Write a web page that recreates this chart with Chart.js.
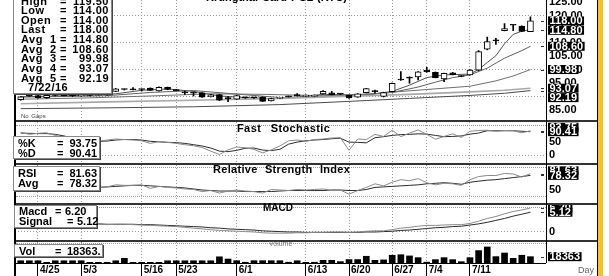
<!DOCTYPE html>
<html>
<head>
<meta charset="utf-8">
<title>Krungthai Card PCL (KTC)</title>
<script src="https://cdn.jsdelivr.net/npm/chart.js@4.4.1/dist/chart.umd.min.js"></script>
<style>
  html, body { margin: 0; padding: 0; background: #fff; }
  body { width: 609px; height: 276px; overflow: hidden; position: relative; font-family: "Liberation Sans", Arial, sans-serif; }
  canvas { position: absolute; left: 15px; }
  .rule { position: absolute; background: #333; }
  .dots { position: absolute; height: 0; border-top: 1px dotted #999; }
  .box { position: absolute; background: #fff; border: 1px solid #888; box-shadow: 1px 1px 0 #444; font-weight: bold; color: #000; }
  .row { position: absolute; height: 10px; line-height: 10px; white-space: nowrap; }
  .ttl { position: absolute; font-weight: bold; font-size: 11px; white-space: nowrap; word-spacing: 3px; line-height: 13px; color: #000; }
</style>
</head>
<body>
<canvas id="cPrice" width="582" height="120" style="top:0px"></canvas>
<canvas id="cStoch" width="582" height="41" style="top:122px"></canvas>
<canvas id="cRsi" width="582" height="38" style="top:165px"></canvas>
<canvas id="cMacd" width="582" height="35" style="top:205px"></canvas>
<canvas id="cVol" width="582" height="34" style="top:242px"></canvas>

<script>
// trading days shown on the chart
const dates = ['4/21','4/22','4/25','4/26','4/27','4/28','4/29','5/3','5/4','5/9',
  '5/10','5/11','5/12','5/13','5/16','5/17','5/18','5/19','5/23','5/24',
  '5/25','5/26','5/27','5/30','5/31','6/1','6/2','6/3','6/6','6/7',
  '6/8','6/9','6/10','6/13','6/14','6/15','6/16','6/17','6/20','6/21',
  '6/22','6/23','6/24','6/27','6/28','6/29','6/30','7/4','7/5','7/6',
  '7/7','7/8','7/11','7/12','7/13','7/14','7/15','7/18','7/21','7/22'];
const dateTicks = ['4/25','5/3','5/16','5/23','6/1','6/13','6/20','6/27','7/4','7/11'];

const open = [88.8,90.2,90.3,89.6,90.4,90.4,90.3,90.3,90.5,90.4,
  90.6,91.9,92.6,92.5,92.7,93.1,92.1,93.4,92.5,91.4,
  91.2,91.4,89.9,90.7,89.2,89.0,89.7,89.5,89.8,88.4,
  89.3,89.9,90.3,90.0,90.0,91.0,91.4,90.9,90.4,89.8,
  91.4,91.8,90.0,91.8,96.2,96.8,97.3,99.8,99.0,96.5,
  98.8,97.6,98.0,99.8,107.5,110.6,114.4,116.5,116.1,114.0];
const high = [90.0,90.4,90.6,90.7,90.6,90.6,90.5,90.6,90.6,90.8,
  90.8,93.0,92.8,93.3,92.8,93.2,93.6,93.5,92.6,92.0,
  91.7,91.5,90.8,90.8,90.0,90.5,89.8,89.6,89.9,89.4,
  89.6,90.1,91.1,90.6,90.6,92.2,91.9,91.0,90.5,91.1,
  93.0,92.4,91.6,95.0,99.2,97.3,99.2,100.8,99.1,98.7,
  98.9,97.7,100.0,107.0,112.0,111.5,117.0,116.6,116.2,119.5];
const low = [88.6,90.0,89.4,89.3,90.2,90.2,90.0,90.1,90.2,90.3,
  90.4,91.8,92.4,92.4,92.0,92.2,92.0,92.5,92.1,90.8,
  90.2,89.7,89.8,88.5,88.1,88.9,89.3,89.3,88.1,88.3,
  89.2,89.8,90.2,89.9,89.9,90.9,90.6,90.7,89.3,89.7,
  91.3,91.2,89.8,91.7,96.0,94.9,96.1,99.0,96.9,95.5,
  98.0,97.3,97.9,99.6,107.3,109.3,114.3,114.4,114.0,114.0];
const close = [89.9,90.2,89.6,90.4,90.4,90.3,90.3,90.5,90.4,90.6,
  90.6,92.8,92.6,92.5,92.6,92.3,93.4,92.6,92.2,91.4,
  91.2,89.8,90.6,88.6,89.2,90.3,89.5,89.5,88.2,89.2,
  89.5,89.9,90.3,90.5,90.5,91.9,90.7,90.9,89.5,91.0,
  92.9,91.8,91.5,94.9,96.1,96.8,99.1,99.1,97.0,98.6,
  98.1,97.4,99.8,106.6,110.3,110.6,115.2,116.4,114.1,118.0];

// moving averages, read at [bar index, value]
const avg1 = [[0,89.9],[3,90.1],[7,90.4],[11,91.0],[14,92.3],[17,92.8],[20,91.9],[23,90.2],[26,89.6],
  [29,89.2],[32,89.8],[35,90.8],[38,90.6],[41,91.0],[43,91.9],[45,94.2],[47,97.0],[49,98.0],[51,98.2],
  [52,98.3],[53,100.0],[54,102.6],[55,105.1],[56,109.5],[57,113.0],[58,114.2],[59,114.8]];
const avg2 = [[0,89.8],[5,90.0],[10,90.3],[15,91.5],[20,92.2],[25,90.9],[30,89.6],[35,89.9],[40,90.7],
  [43,91.5],[46,93.5],[48,95.3],[50,97.0],[52,98.0],[54,100.5],[56,104.2],[58,107.0],[59,108.6]];
const avg3 = [[0,89.0],[8,89.5],[15,90.2],[22,91.0],[28,90.8],[35,90.3],[40,90.8],[43,91.6],[47,92.6],
  [52,93.8],[55,95.8],[57,97.6],[59,99.98]];
const avg4 = [[0,87.3],[10,88.0],[20,88.6],[30,89.3],[40,90.3],[45,90.8],[52,91.7],[56,92.3],[59,93.07]];
const avg5 = [[0,85.5],[10,85.8],[20,86.2],[30,87.0],[40,88.5],[45,89.3],[52,90.4],[56,91.2],[59,92.19]];

const volume = [6500,6500,6500,2000,6500,6500,6500,6500,2000,2000,
  2000,6500,13500,2000,2000,2000,2000,6500,6500,6500,
  6500,6500,6500,18000,11500,6700,2200,6700,6700,6700,
  6700,2200,6500,2000,2200,7800,7800,4000,10000,10000,
  19500,7800,9000,22500,24000,20500,15500,2500,9700,15500,
  9700,3800,15500,36000,46500,18500,29000,13500,22500,18363];

const pctK = [88,80,84,86,76,66,60,55,52,53,
  58,62,60,58,55,45,52,49,45,40,
  36,29,15,2,20,31,28,22,8,20,
  35,55,58,53,60,62,66,67,18,62,
  60,80,72,96,71,85,97,80,61,72,
  82,68,92,95,96,92,95,94,86,93.75];
const pctD = [85,84,83,83,80,74,66,60,56,53,
  54,58,60,60,58,53,51,49,48,45,
  40,35,27,15,13,18,26,27,19,17,
  22,42,50,55,58,60,63,65,50,49,
  47,67,71,76,79,80,82,81,76,71,
  72,74,81,85,94,94,94,94,92,90.41];

const rsi = [58,57,56,57,56,56,55,56,55,55,
  56,60,59,59,60,53,57,55,54,52,
  51,47,49,44,48,50,48,47,44,51,
  50,49,51,50,51,52,49,50,42,49,
  55,62,58,65,70,68,72,64,60,63,
  62,59,70,76,78,78,82,81,75,81.63];
const rsiAvg = [57,57,57,56,56,56,56,56,55,55,
  56,57,58,59,59,58,57,56,55,54,
  52,50,49,48,48,48,47,47,47,47,
  48,49,49,49,49,49,50,50,49,49,
  51,55,56,57,58,59,60,62,63,64,
  63,61,65,67,69,70,72,74,76,78.32];

const macd = [2.6,2.5,2.4,2.3,2.2,2.1,2.1,2.0,2.0,2.0,
  1.9,2.0,2.0,1.9,1.8,1.7,1.6,1.5,1.4,1.2,
  1.0,0.8,0.6,0.4,0.3,0.2,0.1,0.0,-0.2,-0.3,
  -0.3,-0.3,-0.2,-0.2,-0.1,-0.1,0.0,0.0,-0.1,0.0,
  0.2,0.3,0.3,0.6,1.0,1.2,1.5,1.7,1.7,1.8,
  1.9,1.9,2.2,2.8,3.5,4.0,4.7,5.3,5.7,6.20];
const signal = [2.5,2.5,2.4,2.4,2.3,2.3,2.2,2.2,2.1,2.1,
  2.0,2.0,2.0,2.0,1.9,1.9,1.8,1.7,1.6,1.5,
  1.4,1.3,1.1,1.0,0.8,0.7,0.6,0.5,0.3,0.2,
  0.1,0.0,0.0,-0.1,-0.1,-0.1,-0.1,-0.1,-0.1,-0.1,
  0.0,0.0,0.1,0.2,0.4,0.5,0.7,0.9,1.1,1.2,
  1.4,1.5,1.8,2.1,2.5,3.0,3.5,4.1,4.6,5.12];

const priceTicks = [85, 90, 95, 100, 105, 110, 115, 120, 125];
const priceGrid = [90, 100, 110, 120];
const stochTicks = [0, 50];
const rsiTicks = [50];
const macdTicks = [0];

// ---- layout ----
const X_MIN = -0.66, X_MAX = 60.8, AXIS_W = 51;
const last = dates.length - 1;
const tickIdx = dateTicks.map(d => dates.indexOf(d));
const lastOf = a => a[a.length - 1][1];

Chart.defaults.font.family = '"Liberation Sans", Arial, sans-serif';
Chart.defaults.font.weight = 'bold';
Chart.defaults.color = '#000';

// black value tags on the right axis
const hlPlugin = {
  id: 'hl',
  afterDraw(chart, args, opts) {
    if (!opts.items) return;
    const ys = chart.scales.y, ctx = chart.ctx, area = chart.chartArea;
    const pos = opts.items.map(it => ({ text: it.text, py: ys.getPixelForValue(it.value) }));
    pos.forEach(p => p.ly = p.py);
    if (opts.mode === 'push') {
      for (let k = 1; k < pos.length; k++) pos[k].ly = Math.max(pos[k].py, pos[k - 1].ly + 9.4);
    } else if (pos.length === 2) {
      pos[0].ly = Math.min(pos[0].py, pos[1].py - 4.5);
    }
    ctx.save();
    ctx.font = 'bold 11px "Liberation Sans", Arial, sans-serif';
    ctx.textBaseline = 'middle';
    pos.forEach(p => {
      ctx.fillStyle = '#333';
      ctx.fillRect(area.right - 5, Math.round(p.py), 3, 1);
      const w = ctx.measureText(p.text).width;
      ctx.fillStyle = '#000';
      ctx.fillRect(area.right + 2, p.ly - 4.5, w + 3, 9);
      ctx.fillStyle = '#fff';
      ctx.fillText(p.text, area.right + 3.5, p.ly + 0.5);
    });
    ctx.restore();
  }
};

function xScale(showLabels) {
  return {
    type: 'linear', min: X_MIN, max: X_MAX, offset: false,
    afterBuildTicks: s => { s.ticks = tickIdx.map(v => ({ value: v })); },
    afterFit: s => { s.height = showLabels ? 13 : 0; s.paddingLeft = 0; s.paddingRight = 0; },
    grid: { offset: false, color: '#9a9a9a', drawTicks: showLabels, tickLength: 13, tickColor: '#000', tickBorderDash: [], tickWidth: 1 },
    border: { display: false, dash: [1, 2] },
    ticks: {
      display: showLabels, autoSkip: false, maxRotation: 0, align: 'start', padding: -12, labelOffset: 2,
      font: { size: 10, weight: 'bold' }, callback: v => dates[v]
    }
  };
}

function yScale(min, max, ticks, grid, fmt) {
  return {
    position: 'right', min: min, max: max,
    afterBuildTicks: s => { s.ticks = ticks.map(v => ({ value: v })); },
    afterFit: s => { s.width = AXIS_W; s.paddingTop = 0; s.paddingBottom = 0; },
    grid: { drawTicks: false, color: c => (c.tick && grid.includes(c.tick.value)) ? '#9a9a9a' : 'rgba(0,0,0,0)' },
    border: { display: false, dash: [1, 2] },
    ticks: { padding: 3, autoSkip: false, font: { size: 11, weight: 'bold' }, callback: fmt }
  };
}

function baseOptions(scales, hl) {
  return {
    responsive: false, animation: false, events: [],
    layout: { padding: 0 },
    scales: scales,
    plugins: { legend: { display: false }, tooltip: { enabled: false }, hl: hl }
  };
}

const series = arr => arr.map((v, i) => ({ x: i, y: v }));
const pairs = arr => arr.map(p => ({ x: p[0], y: p[1] }));
const line = (data, color, width, order) => ({
  type: 'line', data: data, borderColor: color, borderWidth: width || 1,
  pointRadius: 0, tension: 0, fill: false, order: order || 0
});
const f2 = v => v.toFixed(2);

// ---- price panel ----
new Chart(document.getElementById('cPrice'), {
  type: 'bar',
  data: {
    datasets: [
      line(pairs(avg5), '#4a4a4a', 1, 3),
      line(pairs(avg4), '#a8a8a8', 1.6, 3),
      line(pairs(avg3), '#6e6e6e', 1, 3),
      line(pairs(avg2), '#606060', 1, 3),
      line(pairs(avg1), '#505050', 1, 3),
      { type: 'bar', data: dates.map((d, i) => ({ x: i, y: [low[i], high[i]] })),
        backgroundColor: '#000', barThickness: 1, grouped: false, minBarLength: 1, order: 1 },
      { type: 'bar', data: dates.map((d, i) => ({ x: i, y: [open[i], close[i]] })),
        backgroundColor: dates.map((d, i) => close[i] > open[i] ? '#fff' : '#000'),
        borderColor: '#000', borderWidth: 1, borderSkipped: false,
        barThickness: 6, grouped: false, minBarLength: 1, order: 0 }
    ]
  },
  options: baseOptions({
    x: xScale(false),
    y: yScale(81.3, 125.74, priceTicks, priceGrid, f2)
  }, {
    mode: 'push',
    items: [
      { value: close[last], text: f2(close[last]) },
      { value: lastOf(avg1), text: f2(lastOf(avg1)) },
      { value: lastOf(avg2), text: f2(lastOf(avg2)) },
      { value: lastOf(avg3), text: f2(lastOf(avg3)) },
      { value: lastOf(avg4), text: f2(lastOf(avg4)) },
      { value: lastOf(avg5), text: f2(lastOf(avg5)) }
    ]
  }),
  plugins: [hlPlugin]
});

// ---- fast stochastic ----
new Chart(document.getElementById('cStoch'), {
  type: 'line',
  data: { datasets: [ line(series(pctK), '#8a8a8a', 1), line(series(pctD), '#2a2a2a', 1) ] },
  options: baseOptions({
    x: xScale(false),
    y: yScale(-31, 127.9, stochTicks, [0], v => String(v))
  }, { items: [
    { value: pctK[last], text: f2(pctK[last]) },
    { value: pctD[last], text: f2(pctD[last]) }
  ] }),
  plugins: [hlPlugin]
});

// ---- RSI ----
new Chart(document.getElementById('cRsi'), {
  type: 'line',
  data: { datasets: [ line(series(rsi), '#8a8a8a', 1), line(series(rsiAvg), '#2a2a2a', 1) ] },
  options: baseOptions({
    x: xScale(false),
    y: yScale(24.86, 98.36, rsiTicks, [], v => String(v))
  }, { items: [
    { value: rsi[last], text: f2(rsi[last]) },
    { value: rsiAvg[last], text: f2(rsiAvg[last]) }
  ] }),
  plugins: [hlPlugin]
});

// ---- MACD ----
new Chart(document.getElementById('cMacd'), {
  type: 'line',
  data: { datasets: [ line(series(macd), '#8a8a8a', 1), line(series(signal), '#2a2a2a', 1) ] },
  options: baseOptions({
    x: xScale(false),
    y: yScale(-2.07, 6.98, macdTicks, [0], v => String(v))
  }, { items: [
    { value: macd[last], text: f2(macd[last]) },
    { value: signal[last], text: f2(signal[last]) }
  ] }),
  plugins: [hlPlugin]
});

// ---- volume + date axis ----
new Chart(document.getElementById('cVol'), {
  type: 'bar',
  data: { datasets: [
    { data: series(volume), backgroundColor: '#000', barThickness: 6, borderSkipped: false }
  ] },
  options: baseOptions({
    x: xScale(true),
    y: yScale(0, 60900, [], [], v => '')
  }, { items: [ { value: volume[last], text: String(volume[last]) } ] }),
  plugins: [hlPlugin]
});

// ---- frame, boxes and titles ----
function rule(l, t, w, h, color) {
  const d = document.createElement('div');
  d.className = 'rule';
  Object.assign(d.style, { left: l + 'px', top: t + 'px', width: w + 'px', height: h + 'px' });
  if (color) d.style.background = color;
  document.body.appendChild(d);
}
function dots(t) {
  const d = document.createElement('div');
  d.className = 'dots';
  Object.assign(d.style, { left: '16px', top: t + 'px', width: '530px' });
  document.body.appendChild(d);
}
dots(125); dots(167); dots(196); dots(207); dots(243);
rule(14, 120, 583, 2);
rule(14, 163, 583, 2);
rule(14, 203, 583, 2);
rule(14, 240, 583, 2);
rule(14, 263, 532, 1, '#000');
rule(546, 0, 1, 263, '#000');
rule(14, 0, 2, 276, '#000');
rule(597, 0, 1, 276, '#000');
rule(598, 0, 5, 276, '#f7c21d');

function box(l, t, w, h, size, spacing) {
  const b = document.createElement('div');
  b.className = 'box';
  Object.assign(b.style, { left: l + 'px', top: t + 'px', width: w + 'px', height: h + 'px', fontSize: size + 'px' });
  if (spacing) b.style.letterSpacing = spacing + 'px';
  document.body.appendChild(b);
  return b;
}
function put(b, text, x, cy, right) {
  const s = document.createElement('div');
  s.className = 'row';
  s.textContent = text;
  const bl = parseFloat(b.style.left) + 1, bt = parseFloat(b.style.top) + 1;
  s.style.top = (cy - bt - 5) + 'px';
  if (right) { s.style.left = (x - bl - 60) + 'px'; s.style.width = '60px'; s.style.textAlign = 'right'; }
  else s.style.left = (x - bl) + 'px';
  b.appendChild(s);
}

const info = box(13, -12, 97, 104, 11, 0.5);
const infoRows = [
  ['High', f2(high[last])], ['Low', f2(low[last])], ['Open', f2(open[last])], ['Last', f2(close[last])],
  ['Avg  1', f2(lastOf(avg1))], ['Avg  2', f2(lastOf(avg2))], ['Avg  3', f2(lastOf(avg3))],
  ['Avg  4', f2(lastOf(avg4))], ['Avg  5', f2(lastOf(avg5))]
];
infoRows.forEach((r, k) => {
  const cy = 0.5 + 9.65 * k;
  put(info, r[0].replace('  ', '\u00a0\u00a0'), 21, cy);
  put(info, '=', 60, cy);
  put(info, r[1], 109, cy, true);
});
put(info, dates[last] + '/16', 28, 0.5 + 9.65 * 9);

const sb = box(13, 136, 85, 21, 11);
put(sb, '%K', 18, 143.3); put(sb, '=', 57, 143.3); put(sb, f2(pctK[last]), 97, 143.3, true);
put(sb, '%D', 18, 153.3); put(sb, '=', 57, 153.3); put(sb, f2(pctD[last]), 97, 153.3, true);

const rb = box(13, 166, 85, 23, 11);
put(rb, 'RSI', 18, 173.3); put(rb, '=', 57, 173.3); put(rb, f2(rsi[last]), 97, 173.3, true);
put(rb, 'Avg', 18, 183.3); put(rb, '=', 57, 183.3); put(rb, f2(rsiAvg[last]), 97, 183.3, true);

const mb = box(14, 205, 81, 21, 11);
put(mb, 'Macd', 19, 211); put(mb, '=', 55, 211); put(mb, f2(macd[last]), 65, 211);
put(mb, 'Signal', 19, 220.5); put(mb, '=', 67, 220.5); put(mb, f2(signal[last]), 77, 220.5);

const vb = box(14, 244, 87, 11, 11);
put(vb, 'Vol', 19, 250.5); put(vb, '=', 55, 250.5); put(vb, volume[last] + '.', 67, 250.5);

function title(text, l, cy, size, color, spacing, letter) {
  const d = document.createElement('div');
  d.className = 'ttl';
  d.textContent = text;
  d.style.left = l + 'px';
  d.style.top = (cy - 6.5) + 'px';
  if (size) d.style.fontSize = size + 'px';
  if (color) { d.style.color = color; d.style.fontWeight = 'normal'; }
  if (spacing !== undefined) d.style.wordSpacing = spacing + 'px';
  if (letter) d.style.letterSpacing = letter + 'px';
  document.body.appendChild(d);
}
title('Krungthai Card PCL (KTC)', 206, -3, 11, null, 1);
title('Fast Stochastic', 237, 128.5, 11, null, 6, 0.4);
title('Relative Strength Index', 213, 169.5, 11, null, 4, 0.3);
title('MACD', 263, 207.5, 10);
title('Volume', 269, 243, 7, '#777', 0);
title('No Gaps', 21, 116.5, 6, '#444', 1);
title('Day', 578, 270, 9, '#666', 0);
</script>
</body>
</html>
